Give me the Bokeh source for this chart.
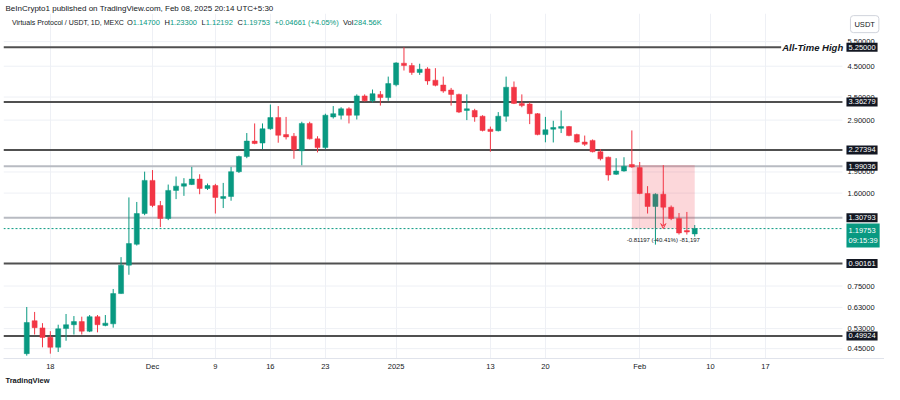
import math
import pandas as pd
from bokeh.plotting import figure
from bokeh.models import (ColumnDataSource, FixedTicker, Label, BoxAnnotation, Range1d,
                          Title, Arrow, VeeHead)
from bokeh.core.properties import value
from bokeh.embed import file_html
from bokeh.resources import INLINE

# ---------------- data ----------------
start_date = "2024-11-15"
opens = [0.432, 0.565, 0.533, 0.494, 0.455, 0.530, 0.547, 0.561, 0.519, 0.584,
         0.544, 0.551, 0.705, 0.889, 1.054, 1.354, 1.774, 1.446, 1.301, 1.635,
         1.693, 1.715, 1.793, 1.661, 1.701, 1.532, 1.556, 1.905, 2.155, 2.444,
         2.406, 2.702, 2.961, 2.577, 2.543, 2.259, 2.823, 2.489, 2.318, 2.977,
         3.018, 3.180, 3.018, 3.532, 3.395, 3.577, 3.485, 3.869, 4.612, 4.525,
         4.278, 4.404, 4.015, 3.860, 3.706, 3.577, 3.137, 3.137, 2.994, 2.693,
         2.660, 2.994, 3.792, 3.324, 3.305, 3.056, 2.577, 2.693, 2.713, 2.751,
         2.577, 2.425, 2.458, 2.241, 2.143, 1.865, 1.915, 2.020, 1.969, 1.594,
         1.434, 1.585, 1.426, 1.301, 1.180, 1.147]
highs = [0.632, 0.607, 0.554, 0.519, 0.547, 0.597, 0.587, 0.584, 0.592, 0.592,
         0.592, 0.732, 0.949, 1.544, 1.488, 1.905, 1.930, 1.500, 1.715, 1.831,
         1.807, 1.980, 1.865, 1.729, 1.725, 1.738, 1.980, 2.172, 2.610, 2.823,
         2.823, 3.293, 3.252, 2.977, 2.610, 2.862, 2.862, 2.543, 3.056, 3.252,
         3.221, 3.221, 3.577, 3.577, 3.722, 3.675, 4.135, 4.650, 5.250, 4.624,
         4.592, 4.465, 4.430, 4.135, 3.771, 3.597, 3.577, 3.180, 3.018, 2.751,
         3.096, 4.135, 3.974, 3.577, 3.350, 3.072, 2.977, 2.885, 3.137, 2.766,
         2.597, 2.557, 2.477, 2.290, 2.155, 2.126, 2.143, 2.666, 2.061, 1.693,
         1.597, 1.623, 1.446, 1.360, 1.372, 1.233]
lows = [0.425, 0.505, 0.455, 0.432, 0.438, 0.480, 0.505, 0.505, 0.515, 0.514,
        0.540, 0.534, 0.704, 0.822, 1.043, 1.336, 1.426, 1.212, 1.283, 1.523,
        1.564, 1.708, 1.585, 1.641, 1.354, 1.416, 1.503, 1.885, 2.126, 2.382,
        2.290, 2.681, 2.412, 2.477, 2.116, 2.007, 2.477, 2.229, 2.290, 2.938,
        2.915, 2.823, 2.915, 3.377, 3.350, 3.265, 3.395, 3.819, 4.345, 4.194,
        4.194, 3.869, 3.819, 3.625, 3.265, 3.072, 2.900, 2.862, 2.645, 2.241,
        2.645, 2.862, 3.305, 3.221, 2.807, 2.563, 2.420, 2.417, 2.610, 2.543,
        2.412, 2.350, 2.229, 2.088, 1.770, 1.855, 1.905, 1.966, 1.585, 1.354,
        1.051, 1.397, 1.283, 1.141, 1.141, 1.12192]
closes = [0.557, 0.534, 0.493, 0.455, 0.529, 0.547, 0.561, 0.519, 0.584, 0.547,
          0.554, 0.705, 0.889, 1.060, 1.354, 1.774, 1.446, 1.301, 1.635, 1.693,
          1.728, 1.793, 1.661, 1.701, 1.544, 1.556, 1.905, 2.155, 2.444, 2.397,
          2.702, 2.961, 2.563, 2.529, 2.277, 2.823, 2.489, 2.318, 3.018, 3.056,
          3.180, 3.018, 3.532, 3.395, 3.597, 3.485, 3.906, 4.624, 4.525, 4.278,
          4.390, 3.993, 3.850, 3.675, 3.577, 3.096, 3.180, 2.977, 2.666, 2.645,
          2.994, 3.792, 3.324, 3.265, 3.056, 2.577, 2.681, 2.730, 2.751, 2.557,
          2.425, 2.382, 2.241, 2.116, 1.855, 1.915, 1.991, 1.980, 1.594, 1.434,
          1.585, 1.426, 1.301, 1.156, 1.165, 1.19753]

tick_dates = ["2024-11-18", "2024-12-01", "2024-12-09", "2024-12-16", "2024-12-23",
              "2025-01-01", "2025-01-13", "2025-01-20", "2025-02-01", "2025-02-10", "2025-02-17"]
tick_labels = ["18", "Dec", "9", "16", "23", "2025", "13", "20", "Feb", "10", "17"]
price_ticks = [0.45, 0.53, 0.63, 0.75, 1.6, 1.9, 2.9, 3.5, 4.5, 5.5]
levels = [5.25, 3.36279, 2.27394, 1.99036, 1.30793, 0.90161, 0.49924]
level_dark = [True, True, True, False, False, True, True]
last_price = 1.19753
countdown = "09:15:39"
range_top = 2.00937
range_start_date = "2025-01-31"
range_end_date = "2025-02-08"
range_text = "-0.81197 (-40.41%) -81,197"
volume_text = "284.56K"
change_text = "+0.04661 (+4.05%)"

GREEN = "#089981"
RED = "#f23645"
TXT = "#131722"
FONT = "Liberation Sans"

t0 = pd.Timestamp(start_date)
idx = list(range(len(opens)))
colors = [GREEN if c >= o else RED for o, c in zip(opens, closes)]
src = ColumnDataSource(dict(x=idx, o=opens, h=highs, l=lows, c=closes, col=colors))
tick_idx = [(pd.Timestamp(d) - t0).days for d in tick_dates]
r0 = (pd.Timestamp(range_start_date) - t0).days
r1 = (pd.Timestamp(range_end_date) - t0).days

# layout constants (index units on x, log price on y)
X0, X1 = -2.96, 109.15      # frame spans the whole width, price scale column included
XR = 103.8                  # right edge of the candle pane
Y0, Y1 = 0.4153, 6.917

def yref(ref_y):
    # price at a vertical position of the reference picture (annotation placement only)
    return 5.25 * math.exp(-(ref_y - 48) / 126.9)

p = figure(width=884, height=384, x_range=Range1d(X0, X1), y_range=Range1d(Y0, Y1),
           y_axis_type="log", output_backend="svg", toolbar_location=None,
           min_border_left=3, min_border_right=0, min_border_top=13, min_border_bottom=26)
p.yaxis.visible = False
p.background_fill_color = "white"
p.border_fill_color = "white"
p.outline_line_color = None
p.ygrid.visible = False

p.title.text = "BeInCrypto1 published on TradingView.com, Feb 08, 2025 20:14 UTC+5:30"
p.title.text_font = FONT
p.title.text_font_size = "8px"
p.title.text_font_style = "normal"
p.title.text_color = TXT
p.title.standoff = 2
p.title.offset = 2

xa = p.xaxis[0]
xa.ticker = FixedTicker(ticks=tick_idx, minor_ticks=[])
xa.major_label_overrides = {i: t for i, t in zip(tick_idx, tick_labels)}
xa.major_label_text_font_size = "7.5px"
xa.major_label_text_font = FONT
xa.major_label_text_color = TXT
xa.axis_line_color = "#e0e3eb"
xa.major_tick_line_color = None
xa.minor_tick_line_color = None
xa.major_tick_out = 0
xa.major_tick_in = 0
xa.major_label_standoff = 3
xa.axis_label_standoff = 0
p.xgrid.ticker = FixedTicker(ticks=tick_idx, minor_ticks=[])
p.xgrid.grid_line_color = "#eef0f5"

p.add_layout(Title(text="TradingView", text_font=FONT, text_font_size="7.5px",
                   text_font_style="bold", text_color=TXT, align="left", offset=2,
                   standoff=0), "below")

# horizontal price grid, stopping at the candle pane edge
p.segment(x0=X0, x1=XR, y0=price_ticks, y1=price_ticks, line_color="#eef0f5", line_width=1)

# price range box
p.add_layout(BoxAnnotation(left=r0, right=r1, bottom=last_price, top=range_top,
                           fill_color=RED, fill_alpha=0.2, line_color=None))

# level lines
lv_cols = ["#505050" if d else "#b8bbc2" for d in level_dark]
p.segment(x0=X0, x1=XR, y0=levels, y1=levels, line_color=lv_cols, line_width=2)
p.segment(x0=X0, x1=XR, y0=last_price, y1=last_price, line_color=GREEN,
          line_dash="2 2", line_width=1)

# candles
p.segment(x0="x", y0="h", x1="x", y1="l", color="col", line_width=1, source=src)
p.vbar(x="x", top="o", bottom="c", width=0.64, fill_color="col", line_color="col",
       line_width=0.5, source=src)

# arrow inside range
mid = (r0 + r1) / 2
p.add_layout(Arrow(end=VeeHead(size=5, line_color=RED, line_width=1, fill_color=None),
                   x_start=mid, y_start=range_top, x_end=mid, y_end=last_price,
                   line_color=RED, line_width=1))
p.add_layout(Label(x=mid, y=last_price, y_offset=-8, text=range_text, text_align="center",
                   text_baseline="top", text_font=FONT, text_font_size="6px", text_color=TXT))

# ATH label
p.add_layout(Label(x=96, y=levels[0], text="All-Time High", text_font=FONT,
                   text_font_style="bold italic", text_font_size="9.5px", text_color=TXT,
                   text_baseline="middle", background_fill_color="white", padding=1))

# price scale labels
p.text(x=XR, y=price_ticks, text=[f"{t:.5f}" for t in price_ticks], x_offset=5,
       text_font=value(FONT), text_font_size="7.5px", text_color=TXT,
       text_baseline="middle", text_align="left")

# level value boxes
for lv in levels:
    p.add_layout(Label(x=XR, y=lv, x_offset=4, text=f"{lv:.5f}", text_font=FONT,
                       text_font_size="7.5px", text_color="white", text_baseline="middle",
                       background_fill_color="#131722", padding=2))
p.add_layout(Label(x=XR, y=last_price, x_offset=4, y_offset=5,
                   text=f"{last_price:.5f}\n{countdown}", text_font=FONT,
                   text_font_size="7.5px", text_color="white", text_baseline="top",
                   background_fill_color=GREEN, padding=2))
p.add_layout(Label(x=XR, y=yref(24), x_offset=8, text="USDT", text_font=FONT,
                   text_font_size="7.5px", text_color=TXT, text_baseline="middle",
                   border_line_color="#d1d4dc", border_radius=3, padding=4))

# legend line (OHLC)
legend_parts = [
    ("Virtuals Protocol / USDT, 1D, MEXC", TXT, 8.5, "7px"),
    ("O", TXT, 123.5, "7.5px"), (f"{opens[-1]:.5f}", GREEN, 129.3, "7.5px"),
    ("H", TXT, 161, "7.5px"), (f"{highs[-1]:.5f}", GREEN, 166.4, "7.5px"),
    ("L", TXT, 198, "7.5px"), (f"{lows[-1]:.5f}", GREEN, 202.2, "7.5px"),
    ("C", TXT, 234, "7.5px"), (f"{closes[-1]:.5f}", GREEN, 239.4, "7.5px"),
    (change_text, GREEN, 271, "7.5px"),
    ("Vol", TXT, 339.5, "7.5px"), (volume_text, GREEN, 350.3, "7.5px"),
]
for txt, col, off, fs in legend_parts:
    p.add_layout(Label(x=X0, y=yref(22), x_offset=off, text=txt, text_font=FONT,
                       text_font_size=fs, text_color=col, text_baseline="middle"))

open("out.html", "w").write(file_html(p, INLINE))
